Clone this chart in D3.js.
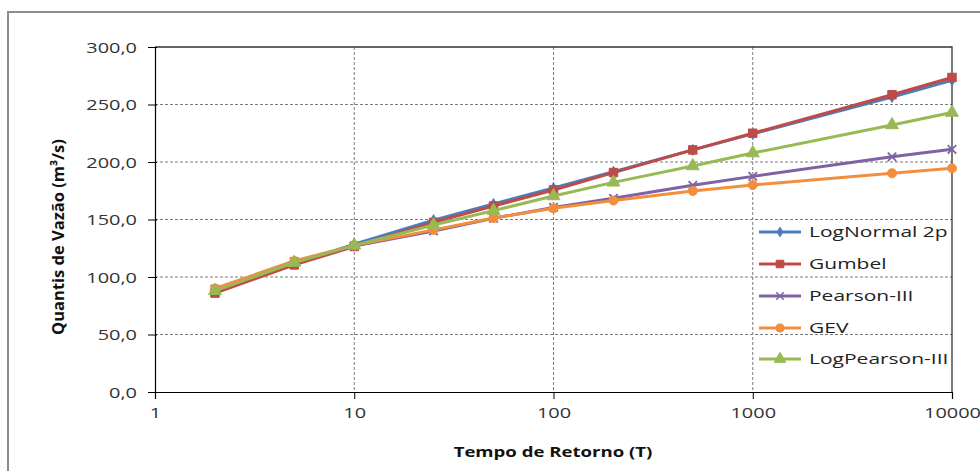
<!DOCTYPE html>
<html><head><meta charset="utf-8">
<script src="https://cdn.jsdelivr.net/npm/d3@7"></script>
<style>body{margin:0;background:#fff} svg{display:block}</style>
</head><body>
<svg id="c" width="980" height="471"></svg>
<script>
// ---- data ----
const returnPeriods = [2, 5, 10, 25, 50, 100, 200, 500, 1000, 5000, 10000];
const seriesNames = ["LogNormal 2p", "Gumbel", "Pearson-III", "GEV", "LogPearson-III"];
const logNormal2p   = [87.5, 111.5, 128.5, 149.5, 163.5, 177.5, 191.5, 210.5, 224.5, 256.5, 271.0];
const gumbel        = [86.0, 110.5, 126.5, 147.5, 161.7, 175.7, 190.8, 210.5, 225.0, 258.5, 273.5];
const pearson3      = [89.5, 113.5, 127.0, 140.0, 151.0, 160.5, 168.5, 179.7, 187.5, 204.5, 211.0];
const gev           = [90.0, 114.0, 127.5, 141.0, 151.3, 159.7, 166.5, 174.8, 180.0, 190.2, 194.5];
const logPearson3   = [88.0, 112.5, 127.5, 145.2, 157.7, 170.4, 182.3, 196.5, 207.8, 232.2, 243.0];
const xTickValues = [1, 10, 100, 1000, 10000];
const yTickValues = [0, 50, 100, 150, 200, 250, 300];
const xTitle = "Tempo de Retorno (T)";
const yTitle = "Quantis de Vazão (m³/s)";

// ---- styles ----
const colors = ["#4A7EBB", "#BE4B48", "#7E62A1", "#F28E3C", "#98B954"];
const symbols = [d3.symbolDiamond, d3.symbolSquare, d3.symbolTimes, d3.symbolCircle, d3.symbolTriangle];
const symSizes = [34, 72, 48, 64, 72];
const values = [logNormal2p, gumbel, pearson3, gev, logPearson3];
const font = "'Open Sans', 'Noto Sans', sans-serif";
const sxTick = 1.33, sxLeg = 1.4;

const svg = d3.select("#c");
const m = {left: 155, right: 952, top: 47, bottom: 392};

// outer chart frame
svg.append("rect").attr("x", 8).attr("y", 12).attr("width", 990).attr("height", 480)
  .attr("fill", "#fff").attr("stroke", "#8c8c8c").attr("stroke-width", 2);

const x = d3.scaleLog().domain([1, 10000]).range([m.left, m.right]);
const y = d3.scaleLinear().domain([0, 300]).range([m.bottom, m.top]);

// gridlines
const grid = svg.append("g");
grid.selectAll(".gy").data(yTickValues.filter(v => v > 0 && v < 300)).join("line")
  .attr("x1", m.left).attr("x2", m.right).attr("y1", d => y(d)).attr("y2", d => y(d))
  .attr("stroke", "#7a7a7a").attr("stroke-width", 1).attr("stroke-dasharray", "3,2");
grid.selectAll(".gx").data(xTickValues.filter(v => v > 1 && v < 10000)).join("line")
  .attr("x1", d => x(d)).attr("x2", d => x(d)).attr("y1", m.top).attr("y2", m.bottom)
  .attr("stroke", "#7a7a7a").attr("stroke-width", 1).attr("stroke-dasharray", "3,2");

// plot frame (top / right)
svg.append("path").attr("d", `M${m.left},${m.top}H${m.right}V${m.bottom}`)
  .attr("fill", "none").attr("stroke", "#333").attr("stroke-width", 1.3);

const loc = d3.formatLocale({decimal: ",", thousands: ".", grouping: [3], currency: ["", ""]});
const fmtY = loc.format(".1f");

// y axis
const gy = svg.append("g").attr("transform", `translate(${m.left},0)`)
  .call(d3.axisLeft(y).tickValues(yTickValues).tickFormat(fmtY).tickSize(7).tickPadding(0));
gy.select(".domain").attr("stroke", "#000").attr("stroke-width", 1.2);
gy.selectAll(".tick line").attr("stroke", "#000").attr("x2", -7).attr("x1", 2);
gy.selectAll(".tick text").attr("font-family", font).attr("font-size", 15).attr("fill", "#333")
  .attr("x", -18 / sxTick).attr("dy", "0.36em").attr("transform", `scale(${sxTick},1)`);

// x axis
const gx = svg.append("g").attr("transform", `translate(0,${m.bottom})`)
  .call(d3.axisBottom(x).tickValues(xTickValues).tickFormat(d3.format("d")).tickSize(7).tickPadding(0));
gx.select(".domain").attr("stroke", "#000").attr("stroke-width", 1.2);
gx.selectAll(".tick line").attr("stroke", "#000");
gx.selectAll(".tick text").attr("font-family", font).attr("font-size", 15).attr("fill", "#333")
  .attr("y", 21).attr("dy", "0.36em").attr("transform", `scale(${sxTick},1)`);

// axis titles
svg.append("text").attr("font-family", font).attr("font-weight", "bold").attr("font-size", 15)
  .attr("text-anchor", "middle").attr("fill", "#111")
  .attr("transform", `translate(553,452) scale(1.24,1)`).attr("dy", "0.35em").text(xTitle);
svg.append("text").attr("font-family", font).attr("font-weight", "bold").attr("font-size", 16.5)
  .attr("text-anchor", "middle").attr("fill", "#111")
  .attr("transform", `translate(58,237) rotate(-90)`).attr("dy", "0.35em").text(yTitle);

// series
const line = d3.line().x((d, i) => x(returnPeriods[i])).y(d => y(d));
values.forEach((vals, k) => {
  const g = svg.append("g");
  g.append("path").attr("d", line(vals)).attr("fill", "none")
    .attr("stroke", colors[k]).attr("stroke-width", 3).attr("stroke-linejoin", "round");
  const sym = d3.symbol().type(symbols[k]).size(symSizes[k]);
  g.selectAll("path.mk").data(vals).join("path").attr("class", "mk")
    .attr("transform", (d, i) => `translate(${x(returnPeriods[i])},${y(d)})`)
    .attr("d", sym())
    .attr("fill", k === 2 ? "none" : colors[k])
    .attr("stroke", colors[k]).attr("stroke-width", k === 2 ? 1.8 : 1);
});

// legend
const legY = [232, 264, 296, 328, 359];
seriesNames.forEach((name, k) => {
  const g = svg.append("g").attr("transform", `translate(0,${legY[k]})`);
  g.append("line").attr("x1", 759).attr("x2", 801).attr("stroke", colors[k]).attr("stroke-width", 3);
  g.append("path").attr("transform", "translate(780,0)")
    .attr("d", d3.symbol().type(symbols[k]).size(symSizes[k] * 0.8)())
    .attr("fill", k === 2 ? "none" : colors[k]).attr("stroke", colors[k]).attr("stroke-width", k === 2 ? 1.5 : 1);
  g.append("text").attr("font-family", font).attr("font-size", 15).attr("fill", "#222")
    .attr("transform", `translate(809,0) scale(${sxLeg},1)`).attr("dy", "0.36em").text(name);
});
</script>
</body></html>
